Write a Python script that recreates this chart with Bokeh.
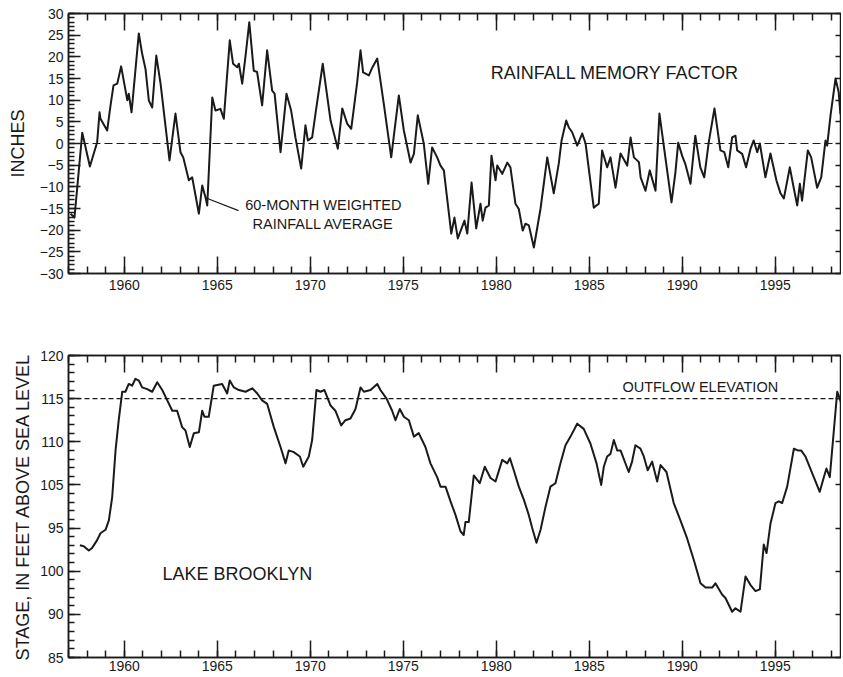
from bokeh.plotting import figure
from bokeh.models import LinearAxis, FixedTicker, Span, Label
from bokeh.layouts import column
from bokeh.embed import file_html
from bokeh.resources import INLINE

# ---------------- data ----------------
rain_year = [1957.11, 1957.32, 1957.47, 1957.74, 1958.15, 1958.54, 1958.67, 1958.72, 1959.08, 1959.26,
             1959.42, 1959.62, 1959.83, 1960.16, 1960.24, 1960.39, 1960.78, 1960.96, 1961.14, 1961.32,
             1961.50, 1961.72, 1961.95, 1962.43, 1962.75, 1963.02, 1963.17, 1963.47, 1963.65, 1964.01,
             1964.19, 1964.37, 1964.46, 1964.73, 1964.90, 1965.17, 1965.35, 1965.67, 1965.85, 1966.07,
             1966.16, 1966.34, 1966.52, 1966.72, 1966.96, 1967.14, 1967.41, 1967.68, 1967.95, 1968.08,
             1968.40, 1968.72, 1968.97, 1969.20, 1969.51, 1969.74, 1969.87, 1970.10, 1970.28, 1970.67,
             1971.09, 1971.48, 1971.72, 1971.98, 1972.20, 1972.52, 1972.70, 1972.84, 1973.15, 1973.33,
             1973.60, 1973.95, 1974.35, 1974.76, 1975.03, 1975.39, 1975.57, 1975.78, 1976.10, 1976.34,
             1976.55, 1976.82, 1977.00, 1977.18, 1977.58, 1977.75, 1977.93, 1978.29, 1978.44, 1978.67,
             1978.92, 1979.15, 1979.27, 1979.42, 1979.60, 1979.74, 1979.96, 1980.05, 1980.32, 1980.59,
             1980.76, 1981.03, 1981.21, 1981.42, 1981.57, 1981.75, 1982.02, 1982.38, 1982.74, 1983.09,
             1983.36, 1983.51, 1983.76, 1983.90, 1984.08, 1984.35, 1984.62, 1984.80, 1985.24, 1985.51,
             1985.69, 1985.96, 1986.14, 1986.41, 1986.68, 1987.04, 1987.22, 1987.40, 1987.67, 1987.76,
             1988.02, 1988.25, 1988.56, 1988.77, 1989.09, 1989.42, 1989.63, 1989.78, 1989.99, 1990.16,
             1990.44, 1990.70, 1990.97, 1991.18, 1991.42, 1991.73, 1992.05, 1992.26, 1992.47, 1992.68,
             1992.86, 1992.95, 1993.22, 1993.43, 1993.67, 1993.84, 1994.03, 1994.17, 1994.47, 1994.74,
             1995.06, 1995.28, 1995.46, 1995.78, 1995.99, 1996.18, 1996.32, 1996.44, 1996.75, 1996.93,
             1997.25, 1997.47, 1997.70, 1997.79, 1997.97, 1998.24, 1998.41, 1998.50, 1998.67]
rain_inches = [-16.2, -17.1, -10.2, 2.5, -5.3, 0.3, 7.2, 5.7, 3.0, 8.8,
               13.4, 13.8, 17.8, 10.0, 11.5, 7.2, 25.4, 20.7, 17.2, 9.9,
               8.3, 20.3, 13.8, -3.9, 6.9, -2.0, -3.2, -8.5, -7.8, -16.2,
               -9.7, -12.5, -14.3, 10.6, 7.6, 8.0, 5.7, 23.8, 18.4, 17.6,
               18.4, 13.8, 20.3, 28.0, 16.8, 16.5, 8.8, 21.5, 12.2, 11.5,
               -2.0, 11.5, 7.6, 1.4, -5.8, 4.2, 0.7, 1.4, 6.9, 18.4,
               5.3, -1.2, 8.1, 4.6, 3.4, 14.1, 21.5, 16.4, 15.7, 17.5,
               19.6, 9.2, -3.2, 11.1, 3.0, -4.4, -2.4, 6.5, 0.0, -9.3,
               -0.9, -3.2, -5.1, -6.2, -20.8, -17.1, -21.9, -17.8, -20.8, -9.0,
               -19.6, -13.9, -17.8, -14.8, -14.3, -2.8, -8.5, -5.1, -7.0, -4.4,
               -5.5, -13.9, -15.1, -20.1, -18.5, -18.9, -24.0, -15.0, -3.2, -11.5,
               -4.6, 0.7, 5.3, 3.7, 2.6, -0.5, 2.3, 0.0, -14.8, -13.9,
               -1.6, -5.5, -3.2, -10.2, -2.3, -5.1, 1.4, -3.2, -4.3, -7.8,
               -10.9, -6.2, -10.9, 6.9, -3.2, -13.6, -6.7, 0.2, -2.8, -4.7,
               -9.3, 1.8, -5.5, -7.8, 0.2, 8.1, -1.6, -2.0, -5.5, 1.4,
               1.8, -1.6, -2.4, -5.5, -1.2, 0.7, -2.0, 0.0, -7.8, -2.3,
               -8.5, -11.5, -12.7, -5.5, -10.2, -14.3, -9.3, -13.2, -1.6, -3.2,
               -10.2, -7.8, 0.7, -0.5, 6.5, 15.0, 11.8, 6.9, 9.9]

lake_year = [1957.61, 1957.82, 1958.09, 1958.27, 1958.54, 1958.72, 1958.99, 1959.17, 1959.35, 1959.53,
             1959.70, 1959.89, 1960.06, 1960.24, 1960.42, 1960.60, 1960.78, 1960.96, 1961.23, 1961.50,
             1961.77, 1962.04, 1962.31, 1962.58, 1962.84, 1963.11, 1963.29, 1963.52, 1963.74, 1964.01,
             1964.19, 1964.31, 1964.54, 1964.81, 1965.26, 1965.53, 1965.67, 1965.89, 1966.16, 1966.52,
             1966.88, 1967.15, 1967.41, 1967.68, 1968.04, 1968.40, 1968.67, 1968.84, 1969.11, 1969.44,
             1969.62, 1969.92, 1970.10, 1970.33, 1970.55, 1970.76, 1971.09, 1971.35, 1971.66, 1971.89,
             1972.16, 1972.43, 1972.70, 1972.88, 1973.24, 1973.60, 1973.77, 1974.10, 1974.40, 1974.58,
             1974.81, 1975.03, 1975.30, 1975.57, 1975.83, 1976.19, 1976.46, 1976.82, 1977.00, 1977.27,
             1977.54, 1977.81, 1978.08, 1978.25, 1978.34, 1978.52, 1978.79, 1979.11, 1979.38, 1979.69,
             1979.96, 1980.32, 1980.59, 1980.73, 1980.94, 1981.21, 1981.48, 1981.75, 1981.93, 1982.16,
             1982.38, 1982.65, 1982.91, 1983.18, 1983.45, 1983.72, 1983.99, 1984.35, 1984.70, 1985.06,
             1985.39, 1985.64, 1985.78, 1985.96, 1986.14, 1986.32, 1986.50, 1986.68, 1987.12, 1987.30,
             1987.48, 1987.75, 1987.93, 1988.14, 1988.38, 1988.65, 1988.83, 1989.15, 1989.54, 1989.90,
             1990.26, 1990.62, 1990.98, 1991.25, 1991.61, 1991.78, 1992.14, 1992.32, 1992.68, 1992.86,
             1993.13, 1993.40, 1993.67, 1993.94, 1994.17, 1994.38, 1994.53, 1994.74, 1995.01, 1995.19,
             1995.37, 1995.64, 1996.00, 1996.21, 1996.39, 1996.62, 1997.07, 1997.39, 1997.61, 1997.75,
             1997.93, 1998.33, 1998.47, 1998.67]
lake_stage = [98.0, 97.9, 97.4, 97.7, 98.6, 99.4, 99.8, 100.9, 103.6, 109.0,
              112.5, 115.8, 115.8, 116.7, 116.5, 117.3, 117.1, 116.3, 116.1, 115.8,
              116.9, 116.0, 114.8, 113.6, 113.6, 111.7, 111.3, 109.4, 111.0, 111.1,
              113.6, 112.9, 112.9, 116.5, 116.7, 115.6, 117.1, 116.3, 116.0, 115.8,
              116.2, 115.6, 114.8, 114.4, 111.7, 109.4, 107.5, 109.0, 108.8, 108.3,
              107.1, 108.3, 110.2, 116.0, 115.8, 116.0, 114.2, 113.6, 111.9, 112.5,
              112.7, 113.8, 116.3, 115.8, 116.0, 116.7, 116.0, 115.0, 113.6, 112.5,
              113.8, 112.9, 112.5, 110.6, 111.0, 109.4, 107.5, 105.9, 104.8, 104.8,
              103.1, 101.5, 99.6, 99.2, 100.7, 100.7, 106.1, 105.2, 107.1, 105.8,
              105.4, 107.9, 107.5, 108.1, 106.7, 104.8, 103.3, 101.5, 100.0, 98.3,
              99.8, 102.5, 104.8, 105.2, 107.5, 109.6, 110.6, 112.1, 111.5, 109.8,
              107.5, 105.0, 107.1, 108.3, 108.6, 110.2, 109.0, 109.0, 106.5, 107.7,
              109.6, 109.2, 108.3, 106.7, 107.7, 105.4, 107.3, 106.5, 102.9, 100.9,
              98.8, 96.3, 93.6, 93.1, 93.1, 93.6, 92.3, 91.9, 90.3, 90.7,
              90.3, 94.4, 93.4, 92.7, 92.9, 98.1, 97.1, 100.5, 102.9, 103.1,
              102.9, 104.8, 109.2, 109.0, 109.0, 108.3, 105.9, 104.2, 105.9, 106.9,
              105.9, 115.8, 115.0, 113.5]

x_major = list(range(1960, 2000, 5))
x_minor = list(range(1957, 2000))
rain_major = list(range(-30, 31, 5))
rain_minor = list(range(-30, 31))
stage_major = list(range(85, 121, 5))
stage_minor = list(range(85, 121))
stage_label_overrides = {95: "100", 100: "95"}   # as printed in the original figure
memory_zero = 0
outflow_elevation = 115

FONT = "Liberation Sans"
INK = "#1a1a1a"
X_START, X_END = 1957.0, 1998.56


def style_axis(ax, major_in, minor_in, labels=True, standoff=5):
    ax.major_tick_in = major_in
    ax.major_tick_out = 0
    ax.minor_tick_in = minor_in
    ax.minor_tick_out = 0
    for attr in ("axis_line", "major_tick_line", "minor_tick_line"):
        setattr(ax, attr + "_color", INK)
        setattr(ax, attr + "_width", 1.5)
    ax.major_label_text_font = FONT
    if labels:
        ax.major_label_text_color = INK
        ax.major_label_text_font_size = "14px"
        ax.major_label_standoff = standoff
    else:
        ax.major_label_text_color = None
        ax.major_label_text_font_size = "1px"
        ax.major_label_standoff = 0
    ax.axis_label_text_font = FONT
    ax.axis_label_text_font_style = "normal"
    ax.axis_label_text_color = INK


def make_fig(y_start, y_end, frame_h, top_border, bottom_border, x_standoff,
             ymaj, ymin, ylabel, y_label_standoff):
    p = figure(frame_width=773, frame_height=frame_h,
               x_range=(X_START, X_END), y_range=(y_start, y_end),
               output_backend="svg", toolbar_location=None,
               min_border_left=68, min_border_right=0,
               min_border_top=top_border, min_border_bottom=bottom_border,
               background_fill_color="white", border_fill_color="white")
    p.xgrid.visible = False
    p.ygrid.visible = False
    p.outline_line_color = INK
    p.outline_line_width = 1.5

    xb = p.xaxis[0]
    xb.ticker = FixedTicker(ticks=x_major, minor_ticks=x_minor)
    style_axis(xb, 17, 7, standoff=x_standoff)

    yl = p.yaxis[0]
    yl.ticker = FixedTicker(ticks=ymaj, minor_ticks=ymin)
    style_axis(yl, 12, 6, standoff=5)
    yl.axis_label = ylabel
    yl.axis_label_text_font_size = "18px"
    yl.axis_label_standoff = y_label_standoff

    xt = LinearAxis(ticker=FixedTicker(ticks=x_major, minor_ticks=x_minor))
    style_axis(xt, 17, 7, labels=False)
    p.add_layout(xt, "above")

    yr = LinearAxis(ticker=FixedTicker(ticks=ymaj, minor_ticks=[]))
    style_axis(yr, 6, 0, labels=False)
    p.add_layout(yr, "right")
    return p


# ---------------- top panel: rainfall memory factor ----------------
p1 = make_fig(-30, 30, 260, 13, 24, 6, rain_major, rain_minor, "INCHES", 9)
p1.add_layout(Span(location=memory_zero, dimension="width", line_color=INK,
                   line_width=1.2, line_dash="8 4"))
p1.line(rain_year, rain_inches, line_color=INK, line_width=2, line_join="round")

p1.add_layout(Label(x=1979.7, y=16.2, text="RAINFALL MEMORY FACTOR", text_font=FONT,
                    text_font_size="18px", text_color=INK, text_baseline="middle"))
p1.add_layout(Label(x=1970.7, y=-14.3, text="60-MONTH WEIGHTED", text_font=FONT,
                    text_font_size="14.5px", text_color=INK, text_baseline="middle",
                    text_align="center"))
p1.add_layout(Label(x=1970.7, y=-18.5, text="RAINFALL AVERAGE", text_font=FONT,
                    text_font_size="14.5px", text_color=INK, text_baseline="middle",
                    text_align="center"))
leader_x = [1964.47, 1966.14]
leader_y = [-12.7, -15.5]
p1.line(leader_x, leader_y, line_color=INK, line_width=1.2)

# ---------------- bottom panel: Lake Brooklyn stage ----------------
p2 = make_fig(85, 120, 302, 58, 20, 3, stage_major, stage_minor,
              "STAGE, IN FEET ABOVE SEA LEVEL", 4)
p2.yaxis[0].major_label_overrides = stage_label_overrides
p2.add_layout(Span(location=outflow_elevation, dimension="width", line_color=INK,
                   line_width=1.2, line_dash="5 3"))
p2.line(lake_year, lake_stage, line_color=INK, line_width=2, line_join="round")
p2.add_layout(Label(x=1962.05, y=94.7, text="LAKE BROOKLYN", text_font=FONT,
                    text_font_size="18px", text_color=INK, text_baseline="middle"))
p2.add_layout(Label(x=1986.78, y=116.4, text="OUTFLOW ELEVATION", text_font=FONT,
                    text_font_size="14.5px", text_color=INK, text_baseline="middle"))

layout = column(p1, p2, spacing=0)
open("out.html", "w").write(file_html(layout, INLINE))
